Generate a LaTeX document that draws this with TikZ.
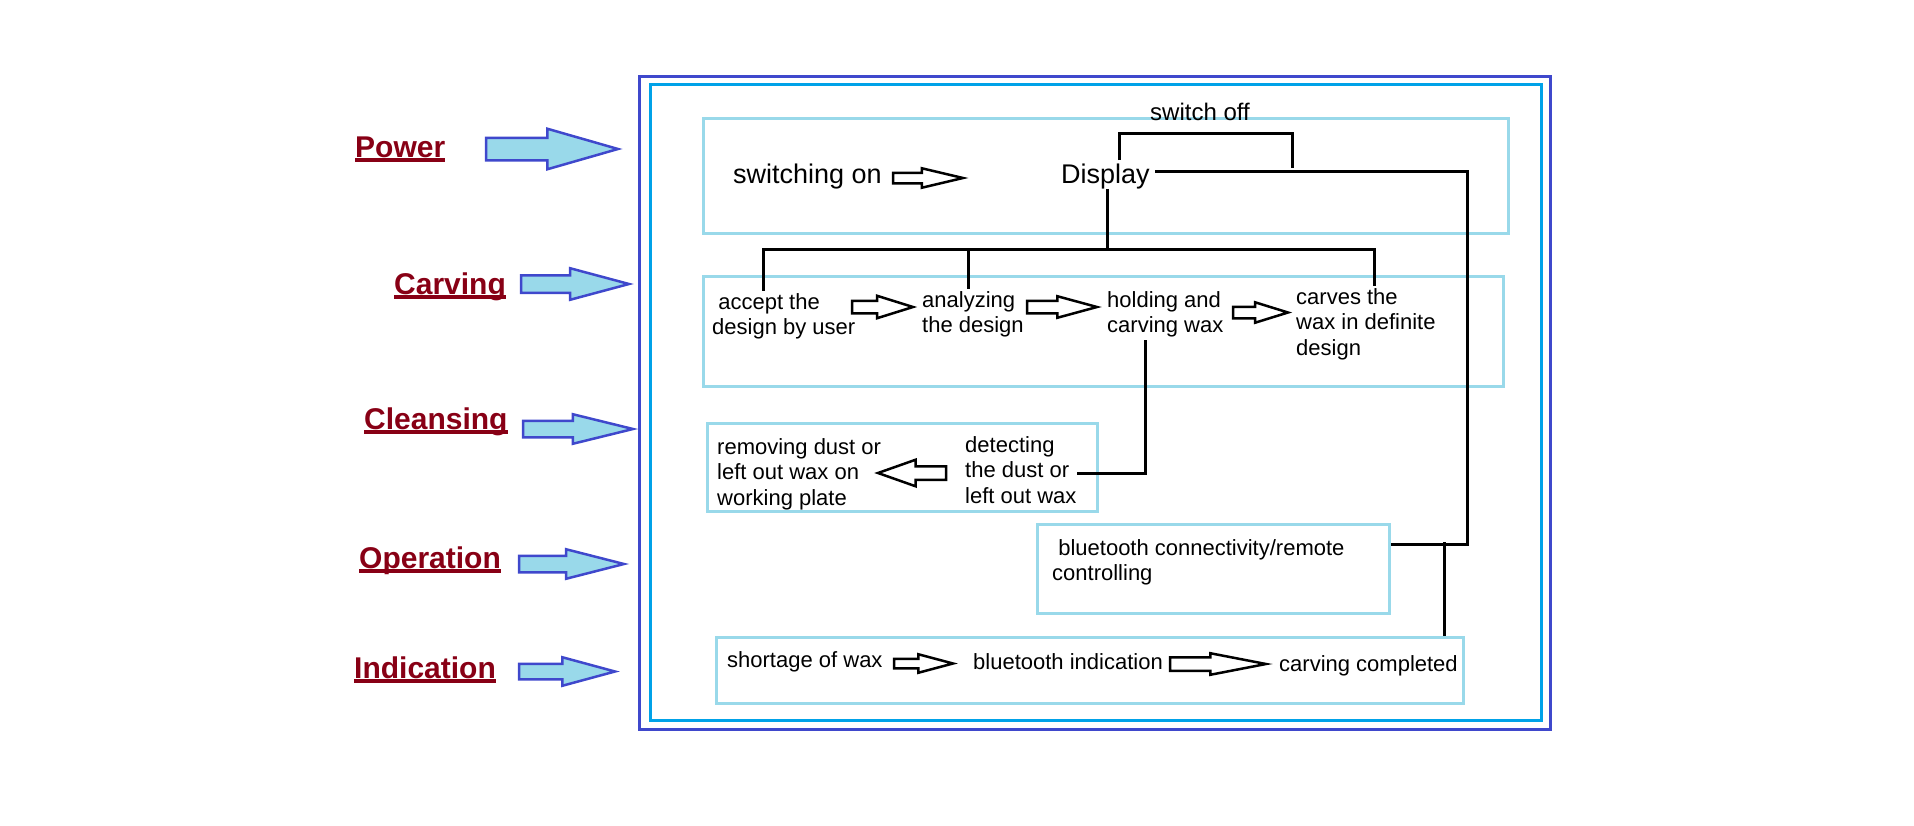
\documentclass[tikz,border=0pt]{standalone}
\usepackage{fontspec}
\setmainfont{Liberation Sans}
\usetikzlibrary{shapes.arrows}
\definecolor{labred}{HTML}{880015}
\definecolor{indigo}{HTML}{3F48CC}
\definecolor{turq}{HTML}{00A2E8}
\definecolor{lturq}{HTML}{99D9EA}
\newsavebox{\ulbox}
\newcommand{\ulab}[1]{\sbox{\ulbox}{#1}\rlap{\rule[-4.5pt]{\wd\ulbox}{3.2pt}}\usebox{\ulbox}}
\newcommand{\stack}[1]{\begin{tabular}[t]{@{}l@{}}#1\end{tabular}}

\begin{document}
\begin{tikzpicture}[x=1pt, y=-1pt]
	\tikzset{lab/.style={anchor=base west, inner sep=0pt, text=labred, font=\fontsize{30}{34}\selectfont\bfseries},
	txt/.style={anchor=base west, inner sep=0pt, font=\fontsize{22}{25.5}\selectfont},
	stage/.style={draw=lturq, line width=3pt, inner sep=0pt},
	wire/.style={line width=3pt},
	ha/.style n args={4}{single arrow, draw=black, fill=white, line width=2.5pt, inner sep=0pt, outer sep=0pt, anchor=tail,
		minimum height=#1, inner ysep=#2, single arrow head extend=#3, single arrow tip angle=#4},
	ba/.style n args={4}{single arrow, draw=indigo, fill=lturq, line width=2.5pt, inner sep=0pt, outer sep=0pt, anchor=tail,
		minimum height=#1, inner ysep=#2, single arrow head extend=#3, single arrow tip angle=#4}};

	\useasboundingbox (0,0) rectangle (1914,825);
	\draw[indigo, line width=3pt] (639,76) rectangle (1550,729);
	\draw[turq, line width=3pt] (650,84) rectangle (1541,720);

	\node[stage, minimum width=805, minimum height=115] (pbox) at (1105.5,175.5) {};
	\node[stage, minimum width=800, minimum height=110] (cbox) at (1103,331) {};
	\node[stage, minimum width=390, minimum height=88] (clbox) at (902,467) {};
	\node[stage, minimum width=352, minimum height=89] (obox) at (1213,568.5) {};
	\node[stage, minimum width=747, minimum height=66] (ibox) at (1089.5,670) {};

	\node[lab] (power) at (355,157) {\ulab{Power}};
	\node[lab] (carving) at (394,294) {\ulab{Carving}};
	\node[lab] (cleansing) at (364,429) {\ulab{Cleansing}};
	\node[lab] (operation) at (359,568) {\ulab{Operation}};
	\node[lab] (indication) at (354,678) {\ulab{Indication}};

	\node[ba={132}{10}{9}{32}] (apower) at (486,149) {};
	\node[ba={108}{7.5}{7}{30}] (acarving) at (521,284) {};
	\node[ba={110}{7}{6.5}{27.6}] (acleansing) at (523,429) {};
	\node[ba={105}{7}{6.5}{28.6}] (aoperation) at (519,564) {};
	\node[ba={96}{6.5}{6.5}{30.3}] (aindication) at (519,671.5) {};

	\node[txt, font=\fontsize{27}{31}\selectfont] (son) at (733,183) {switching on};
	\node[txt, font=\fontsize{27}{31}\selectfont] (disp) at (1061,183) {Display};
	\node[txt, font=\fontsize{24}{28}\selectfont] (soff) at (1150,120) {switch off};
	\node[txt] (acc) at (712,309) {\stack{\ accept the\\design by user}};
	\node[txt] (ana) at (922,307) {\stack{analyzing\\the design}};
	\node[txt] (hold) at (1107,307) {\stack{holding and\\carving wax}};
	\node[txt] (crv) at (1296,304) {\stack{carves the\\wax in definite\\design}};
	\node[txt] (rem) at (717,454) {\stack{removing dust or\\left out wax on\\working plate}};
	\node[txt] (det) at (965,452) {\stack{detecting\\the dust or\\left out wax}};
	\node[txt] (bt) at (1052,555) {\stack{\ bluetooth connectivity/remote\\controlling}};
	\node[txt] (sho) at (727,667) {shortage of wax};
	\node[txt] (bind) at (973,669) {bluetooth indication};
	\node[txt] (comp) at (1279,671) {carving completed};

	\node[ha={70}{4}{4.5}{26.6}] (aon) at (893,178) {};
	\node[ha={61}{5}{5}{34.7}] (a1) at (852,307) {};
	\node[ha={70}{5}{4.5}{30.4}] (a2) at (1027,307) {};
	\node[ha={55}{4.5}{4.5}{34.5}] (a3) at (1233,312.5) {};
	\node[ha={68}{5.5}{6.5}{38.9}, shape border rotate=180] (aclean) at (946,473) {};
	\node[ha={59}{3.5}{4.5}{29.9}] (ai1) at (894,663.5) {};
	\node[ha={96}{5.5}{4}{21.9}] (ai2) at (1170,664) {};

	\coordinate (offl) at (1119,133);
	\coordinate (offr) at (1292,168);
	\coordinate (dl) at (1155,171);
	\coordinate (dr) at (1467,171);
	\coordinate (br) at (1467,544);
	\coordinate (bl) at (1444,542);
	\coordinate (bus) at (1107,249);
	\coordinate (busl) at (763,249);
	\coordinate (busm) at (968,249);
	\coordinate (busr) at (1374,249);
	\coordinate (hd) at (1145,473);

	\draw[wire] (disp.north -| offl) ++(0,-3) -- (offl) -| (offr);
	\draw[wire] (dl) -- (dr) -- (br) -- (obox.east |- br);
	\draw[wire] (bl) -- (bl |- ibox.north);
	\draw[wire] (disp.south -| bus) -- (bus);
	\draw[wire] (acc.north -| busl) -- (busl) -- (busr) -- (crv.north -| busr);
	\draw[wire] (busm) -- (ana.north -| busm);
	\draw[wire] (hold.south -| hd) -- (hd) -- (det.east |- hd);
\end{tikzpicture}
\end{document}
